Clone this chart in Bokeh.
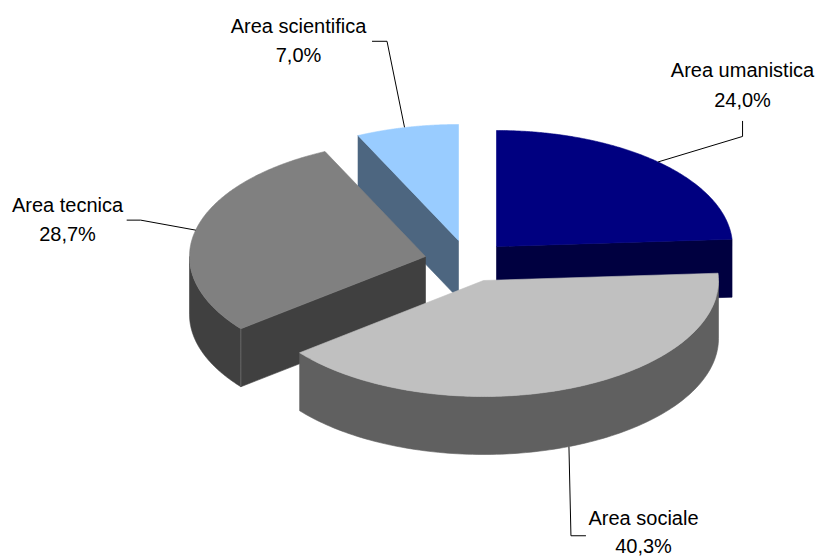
import numpy as np
from bokeh.plotting import figure
from bokeh.models import Range1d
from bokeh.core.properties import value
from bokeh.embed import file_html
from bokeh.resources import INLINE

categories = ["Area umanistica", "Area sociale", "Area tecnica", "Area scientifica"]
shares = [24.0, 40.3, 28.7, 7.0]
share_labels = ["24,0%", "40,3%", "28,7%", "7,0%"]

top_colors = ["#000080", "#C0C0C0", "#808080", "#99CCFF"]
side_colors = ["#000040", "#606060", "#404040", "#4D6680"]

# layout: exploded centre of each slice, in page pixels
centers = {0: (496, 246), 1: (483, 280), 2: (425, 256), 3: (458, 240)}
RX, RY, DEPTH = 236, 116, 58
W, H = 817, 558
label_pos = {0: (742, 69.5), 1: (643, 517.5), 2: (67, 204), 3: (298, 25)}
label_gap = {0: 29.5, 1: 27.5, 2: 29.5, 3: 29.5}
# leader start nudges and elbows relative to the rim anchor
leader_start = {0: (0, 0), 1: (1, 0), 2: (0, 0), 3: (-2.5, 0)}
leader_rel = {0: [(84.5, -25.5), (84.5, -41)], 1: [(3, 89), (18, 89)],
              2: [(-55, -10), (-69, -10)], 3: [(-20, -86), (-35, -86)]}

edges = np.cumsum([0] + shares) / sum(shares) * 2 * np.pi


def rim(i, t):
    cx, cy = centers[i]
    rx = RX - 1 if i == 1 else RX
    return cx + rx * np.sin(t), cy - RY * np.cos(t)


p = figure(width=W, height=H, output_backend="svg", toolbar_location=None,
           x_range=Range1d(0, W), y_range=Range1d(H, 0),
           min_border=0, outline_line_color=None, background_fill_color="white",
           border_fill_color="white")
p.axis.visible = False
p.grid.visible = False


def poly(xs, ys, color):
    p.patch(list(xs), list(ys), fill_color=color, line_color=color, line_width=0.6)


def radial_face(i, t):
    cx, cy = centers[i]
    rx, ry = rim(i, t)
    poly([cx, rx, rx, cx], [cy, ry, ry + DEPTH, cy + DEPTH], side_colors[i])


def outer_wall(i, t0, t1):
    ts = np.linspace(t0, t1, 120)
    x, y = rim(i, ts)
    poly(np.r_[x, x[::-1]], np.r_[y, (y + DEPTH)[::-1]], side_colors[i])


def top(i):
    cx, cy = centers[i]
    ts = np.linspace(edges[i], edges[i + 1], 200)
    x, y = rim(i, ts)
    poly(np.r_[cx, x], np.r_[cy, y], top_colors[i])


# back to front
radial_face(3, edges[3])
top(3)
radial_face(0, edges[1])
top(0)
outer_wall(2, edges[2], 1.5 * np.pi)
radial_face(2, edges[2])
top(2)
sx, sy = rim(2, edges[2])
p.line([sx, sx], [sy, sy + DEPTH], line_color="#707070", line_width=0.8)
outer_wall(1, 0.5 * np.pi, edges[2])
top(1)

# leaders
for i in range(4):
    mid = (edges[i] + edges[i + 1]) / 2
    ax, ay = rim(i, mid)
    if i == 1:
        ay += DEPTH
    xs = [ax + leader_start[i][0]] + [ax + d[0] for d in leader_rel[i]]
    ys = [ay + leader_start[i][1]] + [ay + d[1] for d in leader_rel[i]]
    p.line(xs, ys, line_color="#000000", line_width=1)

# labels
for i in range(4):
    lx, ly = label_pos[i]
    p.text([lx, lx], [ly, ly + label_gap[i]], text=[categories[i], share_labels[i]],
           text_font=value("Liberation Sans"), text_font_size="20px",
           text_color="#000000", text_align="center", text_baseline="middle")

open("out.html", "w").write(file_html(p, INLINE))
